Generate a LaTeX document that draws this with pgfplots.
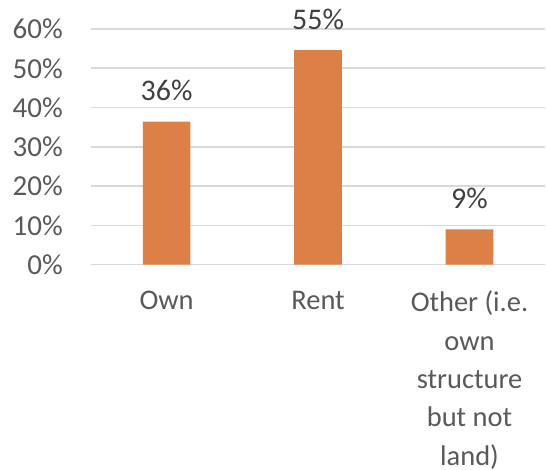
\documentclass[border=0pt]{standalone}
\usepackage{pgfplots}
\pgfplotsset{compat=1.18}
\usepackage{fontspec}
\setmainfont{Carlito}
\definecolor{barc}{RGB}{221,128,71}
\definecolor{gridc}{RGB}{217,217,217}
\definecolor{tickc}{RGB}{89,89,89}
\definecolor{lblc}{RGB}{64,64,64}
\begin{document}
\begin{tikzpicture}
\begin{axis}[
  scale only axis, width=455pt, height=236pt,
  xmin=-0.5, xmax=2.5, ymin=0, ymax=60,
  clip=false,
  axis line style={draw=none},
  ytick={0,10,20,30,40,50,60},
  yticklabel={\pgfmathprintnumber{\tick}\%},
  ymajorgrids, grid style={gridc, line width=1.5pt},
  major tick length=0pt,
  xtick={0,1,2},
  xticklabels={Own, Rent, {Other (i.e.\\own\\structure\\but not\\land)}},
  xticklabel style={align=center, font=\fontsize{28.5}{38.5}\selectfont, text=tickc, anchor=north, inner sep=0pt, yshift=-26pt},
  yticklabel style={font=\fontsize{29}{34}\selectfont, text=tickc, anchor=east, inner sep=0pt, xshift=-28pt},
  /pgf/number format/assume math mode=true,
  point meta=explicit symbolic,
  nodes near coords,
  every node near coord/.append style={font=\fontsize{30}{36}\selectfont, text=lblc, anchor=base, inner sep=0pt, yshift=21pt},
]
\addplot[ybar, bar width=47.7pt, fill=barc, draw=none] coordinates {
  (0,36.4) [36\%]
  (1,54.6) [55\%]
  (2,9.0) [9\%]
};
\coordinate (o) at (rel axis cs:0,0);
\end{axis}
\path[use as bounding box] ([shift={(-91pt,-197pt)}]o) rectangle ([shift={(455pt,265pt)}]o);
\end{tikzpicture}
\end{document}
